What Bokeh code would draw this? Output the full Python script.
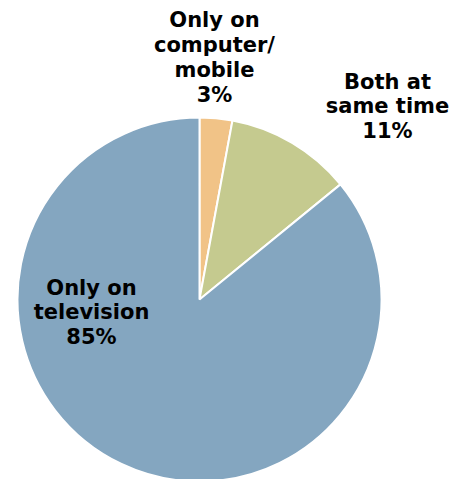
import math
from bokeh.plotting import figure
from bokeh.models import ColumnDataSource, Range1d
from bokeh.core.properties import value
from bokeh.embed import file_html
from bokeh.resources import INLINE

# Data
categories = ["Only on\ncomputer/\nmobile", "Both at\nsame time", "Only on\ntelevision"]
shares = [2.9, 11.2, 85.9]          # slice sizes (%)
pct_labels = ["3%", "11%", "85%"]   # printed labels
colors = ["#F1C387", "#C5CA8F", "#84A6C0"]

# Layout (pixel-like data units)
W, H = 460, 479
cx, cy, R = 199, 180, 182
label_offsets = [(15, 242), (188, 193), (-108, -13)]

total = sum(shares)
starts, ends = [], []
cum = 0.0
for s in shares:
    a0 = math.pi / 2 - (cum + s) / total * 2 * math.pi
    a1 = math.pi / 2 - cum / total * 2 * math.pi
    starts.append(a0)
    ends.append(a1)
    cum += s

src = ColumnDataSource(dict(start=starts, end=ends, color=colors,
                            x=[cx] * len(shares), y=[cy] * len(shares)))

p = figure(width=W, height=H, output_backend="svg", toolbar_location=None,
           x_range=Range1d(0, W), y_range=Range1d(0, H), min_border=0)
p.axis.visible = False
p.grid.visible = False
p.outline_line_color = None
p.background_fill_color = "white"
p.border_fill_color = "white"

p.wedge(x="x", y="y", radius=R, start_angle="start", end_angle="end",
        fill_color="color", line_color="white", line_width=2, source=src)

texts = [c + "\n" + l for c, l in zip(categories, pct_labels)]
lsrc = ColumnDataSource(dict(
    x=[cx + o[0] for o in label_offsets],
    y=[cy + o[1] for o in label_offsets],
    t=texts))
p.text(x="x", y="y", text="t", source=lsrc, text_align="center",
       text_baseline="middle", text_font=value("DejaVu Sans"),
       text_font_style="bold", text_font_size="21px", text_color="#000000",
       text_line_height=1.04)

open("out.html", "w").write(file_html(p, INLINE))
